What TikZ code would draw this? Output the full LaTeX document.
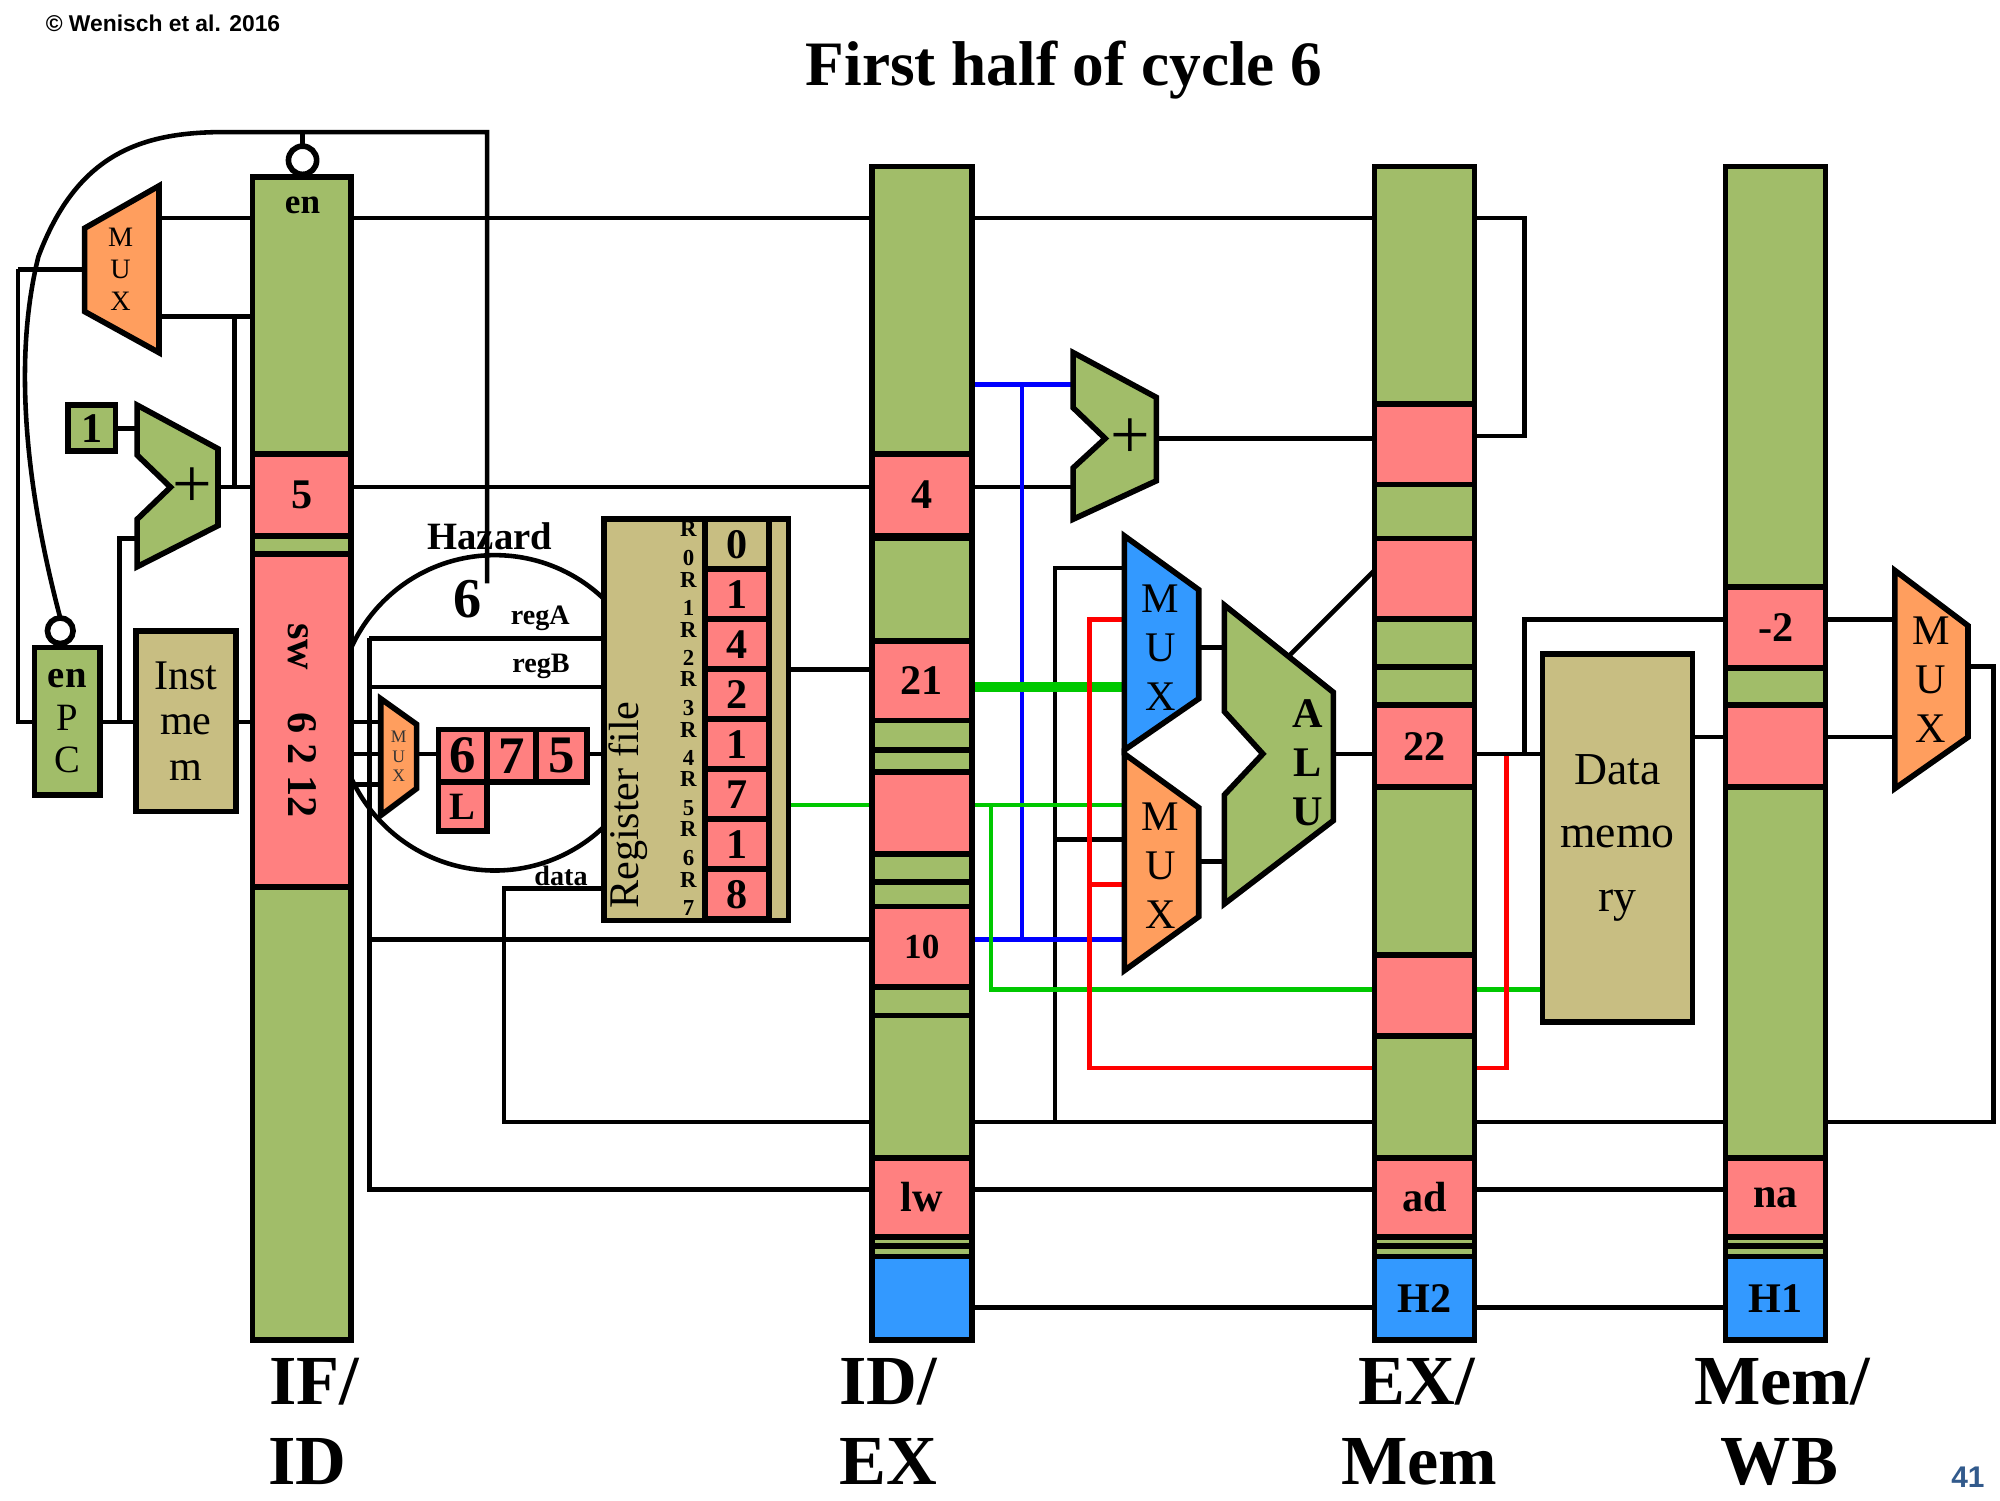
\documentclass[tikz,border=0pt]{standalone}
\usepackage{fontspec}
\setmainfont{Liberation Serif}
\newfontfamily\sansf{Liberation Sans}
\definecolor{stgreen}{RGB}{161,189,105}
\definecolor{stred}{RGB}{255,128,128}
\definecolor{sttan}{RGB}{200,190,130}
\definecolor{storange}{RGB}{255,158,94}
\definecolor{stblue}{RGB}{51,153,255}
\definecolor{pgnum}{RGB}{50,90,140}
\definecolor{wgreen}{RGB}{0,200,0}
\tikzset{
  wire/.style={line width=1.3pt},
  box/.style={draw, line width=1.6pt},
  greg/.style={box, fill=stgreen},
  rreg/.style={box, fill=stred},
  breg/.style={box, fill=stblue},
  treg/.style={box, fill=sttan},
  omux/.style={box, fill=storange},
  stage/.style={font=\bfseries\fontsize{20}{20}\selectfont},
  big/.style={font=\bfseries\fontsize{12}{12}\selectfont},
}
\begin{document}
\begin{tikzpicture}[x=0.01282cm, y=-0.01282cm]
  \useasboundingbox (0,0) rectangle (1560,1170);

  \node[anchor=west, font=\sansf\bfseries\fontsize{6.5}{6.5}\selectfont] at (26,18) {© Wenisch et al. 2016};
  \node[font=\bfseries\fontsize{18}{18}\selectfont] at (830,55) {First half of cycle 6};
  \node[font=\sansf\bfseries\fontsize{8.5}{8.5}\selectfont, text=pgnum] at (1535,1152) {41};

  % hazard circle and back wires
  \draw[wire] (386,556) circle (123);
  \draw[wire] (1535,520) -- (1555,520) -- (1555,875) -- (393,875) -- (393,693) -- (471,693);
  \draw[wire] (823,875) -- (823,443) -- (877,443);
  \draw[wire] (823,655) -- (877,655);
  \draw[wire] (288,498) -- (471,498);
  \draw[wire] (288,536) -- (471,536);
  \draw[wire] (288,498) -- (288,928) -- (680,928);
  \draw[wire] (288,733) -- (680,733);
  \draw[wire] (758,928) -- (1072,928);
  \draw[wire] (1150,928) -- (1346,928);
  \draw[wire] (758,1020) -- (1072,1020);
  \draw[wire] (1150,1020) -- (1346,1020);

  % IF stage wires
  \draw[wire] (47,482) .. controls (20,380) and (10,280) .. (30,200) .. controls (60,120) and (110,103) .. (175,103) -- (380,103) -- (380,455);
  \draw[wire] (236,103) -- (236,114);
  \draw[wire] (14,210) -- (66,210);
  \draw[wire] (14,210) -- (14,563) -- (27,563);
  \draw[wire] (124,170) -- (1189,170) -- (1189,340) -- (1150,340);
  \draw[wire] (124,247) -- (197,247);
  \draw[wire] (183,247) -- (183,380);
  \draw[wire] (170,380) -- (197,380);
  \draw[wire] (90,334) -- (107,334);
  \draw[wire] (78,563) -- (106,563);
  \draw[wire] (93,563) -- (93,420) -- (107,420);
  \draw[wire] (184,563) -- (197,563);
  \draw[wire] (274,380) -- (680,380);
  \draw[wire] (758,380) -- (837,380);
  \draw[wire] (902,342) -- (1072,342);
  \draw[wire] (274,563) -- (297,563);
  \draw[wire] (274,588) -- (297,588);
  \draw[wire] (274,612) -- (297,612);
  \draw[wire] (325,588) -- (342,588);
  \draw[wire] (458,588) -- (471,588);
  \draw[wire] (615,522) -- (680,522);

  % EX stage wires
  \draw[wire, blue] (758,300) -- (837,300);
  \draw[wire, blue] (797,300) -- (797,733);
  \draw[wire, blue] (758,733) -- (877,733);
  \draw[line width=2.8pt, wgreen] (758,536) -- (877,536);
  \draw[wire, wgreen] (615,628) -- (680,628);
  \draw[wire, wgreen] (758,628) -- (877,628);
  \draw[wire, wgreen] (773,628) -- (773,772) -- (1203,772);
  \draw[wire, red] (877,483) -- (850,483) -- (850,833) -- (1175,833) -- (1175,588) -- (1150,588);
  \draw[wire, red] (850,690) -- (877,690);
  \draw[wire] (935,505) -- (955,505);
  \draw[wire] (935,672) -- (955,672);
  \draw[wire] (1040,588) -- (1072,588);
  \draw[wire] (1005,512) -- (1072,445);
  \draw[wire] (1150,588) -- (1203,588);
  \draw[wire] (1189,588) -- (1189,483) -- (1346,483);
  \draw[wire] (1424,483) -- (1478,483);
  \draw[wire] (1320,575) -- (1346,575);
  \draw[wire] (1424,575) -- (1478,575);

  % IF components
  \draw[omux] (66,178) -- (124,145) -- (124,275) -- (66,243) -- cycle;
  \node[align=center, font=\fontsize{8}{9}\selectfont] (pcmux) at (94,210) {M\\U\\X};
  \path[greg] (53,316) rectangle (90,352) node[midway, big] (one) {1};
  \draw[greg] (107,316) -- (170,350) -- (170,410) -- (107,442) -- (107,405) -- (133,380) -- (107,355) -- cycle;
  \node[font=\fontsize{20}{20}\selectfont] (ifadd) at (150,380) {+};
  \path[greg] (27,505) rectangle (78,620) node[midway, align=center, font=\fontsize{11}{12}\selectfont] (pc) {\textbf{en}\\P\\C};
  \draw[box, fill=white] (47,492) circle (10);
  \path[treg] (106,492) rectangle (184,633) node[midway, align=center, font=\fontsize{12}{13}\selectfont] (imem) {Inst\\me\\m};

  % IF/ID register
  \draw[box, fill=white] (236,125) circle (11);
  \path[greg] (197,138) rectangle (274,1045);
  \node[font=\bfseries\fontsize{10}{10}\selectfont] (ifen) at (236,160) {en};
  \path[rreg] (197,354) rectangle (274,418) node[midway, big] (ifpc) {5};
  \path[rreg] (197,432) rectangle (274,692) node[midway, rotate=-90, font=\bfseries\fontsize{12}{12}\selectfont] (ifins) {sw\quad 6\ 2\ 12};

  % hazard unit
  \node[font=\bfseries\fontsize{11}{11}\selectfont] (hzd) at (382,418) {Hazard};
  \node[font=\bfseries\fontsize{16}{16}\selectfont] (hzn) at (365,467) {6};
  \node[anchor=east, font=\bfseries\fontsize{8}{8}\selectfont] (ra) at (454,482) {regA};
  \node[anchor=east, font=\bfseries\fontsize{8}{8}\selectfont] (rb) at (454,520) {regB};
  \node[anchor=east, font=\bfseries\fontsize{8}{8}\selectfont] (dt) at (468,683) {data};
  \draw[omux] (297,545) -- (325,565) -- (325,615) -- (297,636) -- cycle;
  \node[align=center, font=\fontsize{5}{5.5}\selectfont, text=black!80] (hzmux) at (311,590) {M\\U\\X};
  \path[rreg] (342,569) rectangle (380,610) node[midway, font=\bfseries\fontsize{15}{15}\selectfont] (h6) {6};
  \path[rreg] (380,569) rectangle (418,610) node[midway, font=\bfseries\fontsize{15}{15}\selectfont] (h7) {7};
  \path[rreg] (418,569) rectangle (458,610) node[midway, font=\bfseries\fontsize{15}{15}\selectfont] (h5) {5};
  \path[rreg] (342,610) rectangle (380,648) node[midway, font=\bfseries\fontsize{11}{11}\selectfont] (hl) {L};

  % register file
  \path[treg] (471,405) rectangle (615,718);
  \node[rotate=90, font=\fontsize{12}{12}\selectfont] (rf) at (490,628) {Register file};
  \draw[box] (600,405) -- (600,718);
  \path[treg] (550,405) rectangle (600,444) node[midway, big] (r0) {0};
  \foreach \v [count=\i] in {1,4,2,1,7,1,8} {
    \path[rreg] (550,405+39*\i) rectangle (600,444+39*\i) node[midway, big] (r\i) {\v};
  }
  \foreach \i in {0,...,7} {
    \node[align=center, font=\bfseries\fontsize{6.5}{8}\selectfont] (rl\i) at (537,424+39*\i) {R\\\i};
  }

  % ID/EX register
  \path[greg] (680,130) rectangle (758,1045);
  \path[rreg] (680,354) rectangle (758,418) node[midway, big] (expc) {4};
  \draw[box] (680,420) -- (758,420);
  \path[rreg] (680,500) rectangle (758,562) node[midway, big] (exa) {21};
  \draw[box] (680,585) -- (758,585);
  \path[rreg] (680,602) rectangle (758,666) node[midway] (exb) {};
  \draw[box] (680,688) -- (758,688);
  \path[rreg] (680,707) rectangle (758,770) node[midway, font=\bfseries\fontsize{10}{10}\selectfont] (eximm) {10};
  \draw[box] (680,792) -- (758,792);
  \path[rreg] (680,903) rectangle (758,965) node[midway, big] (exop) {lw};
  \draw[box] (680,972) -- (758,972);
  \path[breg] (680,980) rectangle (758,1045) node[midway] (exh) {};

  % EX components
  \draw[greg] (837,275) -- (902,310) -- (902,375) -- (837,405) -- (837,365) -- (862,342) -- (837,318) -- cycle;
  \node[font=\fontsize{20}{20}\selectfont] (exadd) at (882,342) {+};
  \draw[box, fill=stblue] (877,418) -- (935,460) -- (935,545) -- (877,585) -- cycle;
  \node[align=center, font=\fontsize{12}{14}\selectfont] (muxa) at (905,505) {M\\U\\X};
  \draw[omux] (877,588) -- (935,630) -- (935,715) -- (877,757) -- cycle;
  \node[align=center, font=\fontsize{12}{14}\selectfont] (muxb) at (905,675) {M\\U\\X};
  \draw[greg] (955,472) -- (1040,540) -- (1040,640) -- (955,705) -- (955,620) -- (985,588) -- (955,555) -- cycle;
  \node[align=center, font=\bfseries\fontsize{12}{14}\selectfont] (alu) at (1020,595) {A\\L\\U};

  % EX/Mem register
  \path[greg] (1072,130) rectangle (1150,1045);
  \path[rreg] (1072,315) rectangle (1150,378) node[midway] (mtgt) {};
  \path[rreg] (1072,420) rectangle (1150,483) node[midway] (meq) {};
  \draw[box] (1072,520) -- (1150,520);
  \path[rreg] (1072,550) rectangle (1150,614) node[midway, big] (malu) {22};
  \path[rreg] (1072,745) rectangle (1150,808) node[midway] (mb) {};
  \path[rreg] (1072,903) rectangle (1150,965) node[midway, big] (mop) {ad};
  \draw[box] (1072,972) -- (1150,972);
  \path[breg] (1072,980) rectangle (1150,1045) node[midway, big] (mh) {H2};

  % memory stage
  \path[treg] (1203,510) rectangle (1320,797) node[midway, align=center, font=\fontsize{13}{18}\selectfont] (dmem) {Data\\memo\\ry};

  % Mem/WB register
  \path[greg] (1346,130) rectangle (1424,1045);
  \path[rreg] (1346,458) rectangle (1424,521) node[midway, big] (wmem) {-2};
  \path[rreg] (1346,550) rectangle (1424,614) node[midway] (walu) {};
  \path[rreg] (1346,903) rectangle (1424,965) node[midway, big] (wop) {na};
  \draw[box] (1346,972) -- (1424,972);
  \path[breg] (1346,980) rectangle (1424,1045) node[midway, big] (wh) {H1};
  \draw[omux] (1478,445) -- (1535,488) -- (1535,575) -- (1478,615) -- cycle;
  \node[align=center, font=\fontsize{12}{14}\selectfont] (wbmux) at (1506,530) {M\\U\\X};

  % stage names
  \node[stage] (if1) at (245,1078) {IF/};
  \node[stage] (if2) at (240,1140) {ID};
  \node[stage] (id1) at (693,1078) {ID/};
  \node[stage] (id2) at (693,1140) {EX};
  \node[stage] (ex1) at (1105,1078) {EX/};
  \node[stage] (ex2) at (1107,1140) {Mem};
  \node[stage] (mw1) at (1390,1078) {Mem/};
  \node[stage] (mw2) at (1388,1140) {WB};
\end{tikzpicture}
\end{document}
